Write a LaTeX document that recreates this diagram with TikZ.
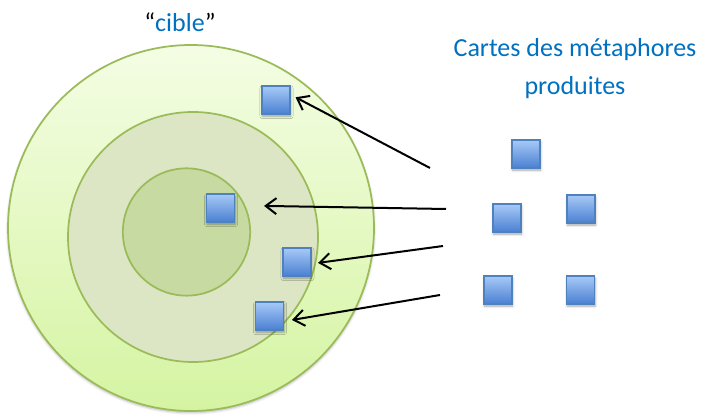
\documentclass[tikz,border=0pt]{standalone}
\usepackage{fontspec}
\setmainfont{Carlito}
\usepackage{tikz}
\usetikzlibrary{arrows.meta,positioning,shadows.blur}

\definecolor{ringline}{HTML}{9BBB59}
\definecolor{outertop}{HTML}{F4FDE4}
\definecolor{outerbottom}{HTML}{D5F4A2}
\definecolor{middlefill}{HTML}{DCE6C5}
\definecolor{innerfill}{HTML}{C6DAA2}
\definecolor{titleblue}{HTML}{0070C0}
\definecolor{cardline}{HTML}{4F81BD}
\definecolor{cardtop}{HTML}{A7C9F7}
\definecolor{cardbottom}{HTML}{4A80D2}

\begin{document}
\begin{tikzpicture}[x=0.75pt,y=-0.75pt,node distance=62pt,
  thick,ring/.style={circle,draw=ringline,line width=1.3pt,inner sep=0pt},
  carte/.style={rectangle,draw=cardline,line width=0.9pt,minimum size=21pt,inner sep=0pt,
    top color=cardtop,bottom color=cardbottom,
    blur shadow={shadow xshift=0.4pt,shadow yshift=-1.6pt,shadow opacity=35,shadow blur steps=5}},
  fleche/.style={-{Straight Barb[length=8pt,width=12pt]},line width=1.5pt},
  titre/.style={font=\fontsize{19.5}{28.5}\selectfont,text=titleblue}]

  \useasboundingbox (0,0) rectangle (701,416);

  % target rings
  \node[ring,minimum size=274.5pt,top color=outertop,bottom color=outerbottom,
    blur shadow={shadow xshift=0pt,shadow yshift=-1.2pt,shadow opacity=30,shadow blur steps=4}] (outer) at (191,228) {};
  \node[ring,minimum size=187.5pt,fill=middlefill] (middle) at (193,237) {};
  \node[ring,minimum size=95.5pt,fill=innerfill] (inner) at (186.5,232) {};

  \node[titre] (cible) at (180,22) {{\color{black}“}cible{\color{black}”}};
  \node[titre,align=center] (cartes) at (575,69) {Cartes des métaphores\\produites};

  % maps placed in the rings
  \node[carte] (1) at (276,100) {};
  \node[carte] (2) at (220.5,208) {};
  \node[carte] (3) at (297,262) {};
  \node[carte] (4) at (269.5,316) {};

  % produced maps
  \node[carte] (5) at (526,154) {};
  \node[carte] (6) at (507,218) {};
  \node[carte] (7) at (498,290) {};
  \node[carte] (8) [right of=7] {};
  \node[carte] (9) at (581,209) {};

  \coordinate (d1) at (430,168);
  \coordinate (d2) at (446,209);
  \coordinate (d3) at (443,246);
  \coordinate (d4) at (440,295);

  \draw[fleche,shorten >=4.2pt] (d1) -- (1.20);
  \draw[fleche,shorten >=21.7pt] (d2) -- (2.10);
  \draw[fleche,shorten >=4.9pt] (d3) -- (3.-7);
  \draw[fleche,shorten >=6pt] (d4) -- (4.-20);
  %\draw[fleche] (d4) -- (4);

\end{tikzpicture}
\end{document}
